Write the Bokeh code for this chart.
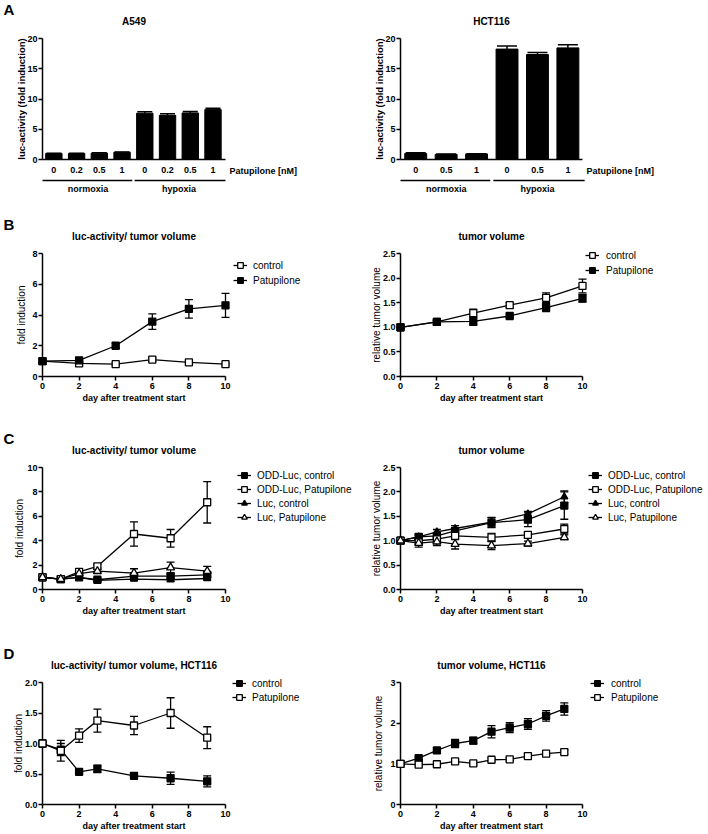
import math
from bokeh.plotting import figure
from bokeh.layouts import column, row
from bokeh.core.properties import value
from bokeh.models import (ColumnDataSource, Range1d, FixedTicker, NumeralTickFormatter,
                          Whisker, TeeHead, Legend, LegendItem)
from bokeh.embed import file_html
from bokeh.resources import INLINE

# ---------------- data ----------------
A549_DOSES = ["0", "0.2", "0.5", "1", "0", "0.2", "0.5", "1"]
A549_VALUES = [1.0, 1.0, 1.05, 1.2, 7.65, 7.3, 7.7, 8.25]
A549_ERR = [0.05, 0.05, 0.05, 0.05, 0.25, 0.25, 0.25, 0.22]
HCT_DOSES = ["0", "0.5", "1", "0", "0.5", "1"]
HCT_VALUES = [1.0, 0.85, 0.92, 18.25, 17.35, 18.45]
HCT_ERR = [0.1, 0.05, 0.05, 0.5, 0.35, 0.5]
GROUPS = ["normoxia", "hypoxia"]

DAYS_B = [0, 2, 4, 6, 8, 10]
B_LUC_CONTROL = [1.0, 0.85, 0.8, 1.1, 0.92, 0.8]
B_LUC_CONTROL_ERR = [0.05, 0.1, 0.08, 0.12, 0.1, 0.06]
B_LUC_PATU = [1.0, 1.05, 2.0, 3.57, 4.4, 4.63]
B_LUC_PATU_ERR = [0.05, 0.08, 0.17, 0.5, 0.6, 0.78]
B_VOL_CONTROL = [1.0, 1.11, 1.29, 1.45, 1.6, 1.84]
B_VOL_CONTROL_ERR = [0.02, 0.03, 0.08, 0.05, 0.1, 0.14]
B_VOL_PATU = [1.0, 1.11, 1.12, 1.23, 1.40, 1.59]
B_VOL_PATU_ERR = [0.02, 0.03, 0.08, 0.04, 0.08, 0.08]

DAYS_C = [0, 1, 2, 3, 5, 7, 9]
C_LUC_ODD_CTRL = [1.0, 0.85, 1.0, 0.8, 1.1, 1.1, 1.2]
C_LUC_ODD_CTRL_ERR = [0.05, 0.05, 0.1, 0.1, 0.1, 0.15, 0.2]
C_LUC_ODD_PATU = [1.0, 0.85, 1.45, 1.9, 4.55, 4.2, 7.15]
C_LUC_ODD_PATU_ERR = [0.05, 0.05, 0.12, 0.15, 1.0, 0.72, 1.7]
C_LUC_LUC_CTRL = [1.0, 0.85, 1.0, 0.75, 0.85, 0.8, 0.9]
C_LUC_LUC_CTRL_ERR = [0.05, 0.05, 0.08, 0.1, 0.1, 0.12, 0.1]
C_LUC_LUC_PATU = [1.0, 0.85, 1.3, 1.5, 1.35, 1.8, 1.5]
C_LUC_LUC_PATU_ERR = [0.05, 0.05, 0.1, 0.15, 0.35, 0.45, 0.4]

C_VOL_ODD_CTRL = [1.0, 1.08, 1.1, 1.2, 1.37, 1.43, 1.72]
C_VOL_ODD_CTRL_ERR = [0.02, 0.05, 0.06, 0.06, 0.1, 0.14, 0.28]
C_VOL_ODD_PATU = [1.0, 1.0, 1.03, 1.1, 1.07, 1.12, 1.24]
C_VOL_ODD_PATU_ERR = [0.02, 0.04, 0.06, 0.08, 0.08, 0.06, 0.1]
C_VOL_LUC_CTRL = [1.0, 1.08, 1.18, 1.25, 1.38, 1.55, 1.9]
C_VOL_LUC_CTRL_ERR = [0.02, 0.04, 0.05, 0.06, 0.1, 0.05, 0.12]
C_VOL_LUC_PATU = [1.0, 0.95, 0.98, 0.93, 0.9, 0.94, 1.07]
C_VOL_LUC_PATU_ERR = [0.02, 0.08, 0.08, 0.1, 0.08, 0.05, 0.05]

DAYS_D_LUC = [0, 1, 2, 3, 5, 7, 9]
D_LUC_CONTROL = [1.0, 0.9, 0.535, 0.585, 0.47, 0.43, 0.38]
D_LUC_CONTROL_ERR = [0.02, 0.1, 0.02, 0.06, 0.02, 0.1, 0.09]
D_LUC_PATU = [1.0, 0.88, 1.13, 1.375, 1.295, 1.5, 1.095]
D_LUC_PATU_ERR = [0.02, 0.17, 0.11, 0.19, 0.15, 0.25, 0.18]
DAYS_D_VOL = [0, 1, 2, 3, 4, 5, 6, 7, 8, 9]
D_VOL_CONTROL = [1.0, 1.14, 1.33, 1.5, 1.57, 1.79, 1.89, 1.98, 2.18, 2.35]
D_VOL_CONTROL_ERR = [0.02, 0.04, 0.07, 0.1, 0.08, 0.15, 0.12, 0.13, 0.13, 0.15]
D_VOL_PATU = [1.0, 0.98, 0.99, 1.06, 1.01, 1.10, 1.11, 1.19, 1.25, 1.29]
D_VOL_PATU_ERR = [0.02, 0.03, 0.03, 0.04, 0.03, 0.04, 0.04, 0.05, 0.04, 0.05]

# ---------------- layout constants ----------------
FONT = "Liberation Sans"
# column: (left border, data-area width, full frame width)
COLS = {0: (42, 183, 316), 1: (42, 182, 308)}
# row: (space above data area, data-area height, bottom border)
ROWS = {"A": (38, 121, 41), "B": (53, 123, 34), "C": (57, 122, 41), "D": (52, 122, 30)}
X_OFF = {0: 0, 1: sum(COLS[0][::2])}
Y_OFF = {}
_acc = 0
for k in "ABCD":
    Y_OFF[k] = _acc
    _acc += sum(ROWS[k])


def data_box(c, r):
    """image-pixel left/bottom of the data area, with its width/height"""
    bl, dw, fw = COLS[c]
    top, dh, bb = ROWS[r]
    return X_OFF[c] + bl, Y_OFF[r] + top + dh, dw, dh


def style_axis(ax):
    ax.axis_line_width = 1.5
    ax.axis_line_color = "black"
    ax.major_tick_line_width = 1.5
    ax.major_tick_line_color = "black"
    ax.major_tick_out = 4
    ax.major_tick_in = 0
    ax.minor_tick_out = 0
    ax.minor_tick_in = 0
    ax.major_label_text_font = FONT
    ax.major_label_text_font_size = "9px"
    ax.major_label_text_font_style = "bold"
    ax.major_label_text_color = "black"
    ax.major_label_standoff = 2


def make_fig(c, r, x0, x1, y1):
    bl, dw, fw = COLS[c]
    top, dh, bb = ROWS[r]
    fh = top + dh
    p = figure(width=bl + fw, height=fh + bb,
               x_range=Range1d(x0, x0 + (x1 - x0) * fw / dw),
               y_range=Range1d(0, y1 * fh / dh),
               output_backend="svg", toolbar_location=None,
               min_border_left=bl, min_border_right=0,
               min_border_top=0, min_border_bottom=bb)
    p.outline_line_color = None
    p.grid.visible = False
    p.extra_x_ranges = {"px_x": Range1d(0, fw)}
    p.extra_y_ranges = {"px_y": Range1d(0, fh)}
    for ax in p.axis:
        style_axis(ax)
    p.yaxis.major_label_standoff = 1
    p.xaxis.bounds = (x0, x1)
    p.yaxis.bounds = (0, y1)
    return p


def texts(p, xs, ys, labels, size="10px", style="bold", align="center", angle=0.0,
          x_data=False):
    kw = dict(y_range_name="px_y")
    if not x_data:
        kw["x_range_name"] = "px_x"
    p.text(x=xs, y=ys, text=labels, text_font=value(FONT), text_font_size=value(size),
           text_font_style=style, text_align=align, text_baseline="middle",
           text_color="black", angle=angle, level="overlay", **kw)


def decorate(p, c, r, title, letter, ylabel, ylabel_x, ylabel_bold, ylabel_size, xlabel=None):
    _, _, dw, dh = data_box(c, r)
    texts(p, [dw / 2], [dh + 17.5], [title], "10px", "bold")
    if letter:
        texts(p, [-39], [dh + 29.5], [letter], "15px", "bold", "left")
    texts(p, [ylabel_x], [dh / 2], [ylabel], ylabel_size,
          "bold" if ylabel_bold else "normal", "center", math.pi / 2)
    if xlabel:
        texts(p, [dw / 2], [-21.5], [xlabel], "9px", "bold")


def bar_panel(c, r, doses, values, errs, xmax, tee, title, letter):
    n = len(doses)
    xs = list(range(1, n + 1))
    p = make_fig(c, r, 0.5, xmax, 20)
    _, _, dw, dh = data_box(c, r)
    src = ColumnDataSource(dict(x=xs, top=values,
                                hi=[v + e for v, e in zip(values, errs)]))
    p.vbar(x="x", top="top", width=0.72, source=src, color="black")
    p.add_layout(Whisker(source=src, base="x", lower="top", upper="hi", dimension="height",
                         line_width=1.5, line_color="black", level="annotation",
                         lower_head=None,
                         upper_head=TeeHead(size=tee, line_width=1.5, line_color="black")))
    p.yaxis[0].ticker = FixedTicker(ticks=[0, 5, 10, 15, 20])
    xa = p.xaxis[0]
    xa.ticker = FixedTicker(ticks=xs)
    xa.major_label_overrides = {x: d for x, d in zip(xs, doses)}
    xa.major_tick_out = 0
    xa.major_label_standoff = 7
    texts(p, [dw + 4], [-11.4], ["Patupilone [nM]"], "9px", "bold", "left")
    half = n // 2
    p.segment(x0=[0.5, half + 0.55], x1=[half + 0.45, n + 0.55], y0=[-21, -21], y1=[-21, -21],
              y_range_name="px_y", line_width=1.3, color="black", level="overlay")
    texts(p, [(1 + half) / 2, (half + 1 + n) / 2], [-29, -29], GROUPS, "9px", "bold",
          x_data=True)
    decorate(p, c, r, title, letter, "luc-activity (fold induction)",
             -21.5, True, "9.5px")
    return p


def line_panel(c, r, ymax, yticks, yfmt, ylabel, ylabel_x, title, letter,
               series, legend_glyph_x, legend_first_y, legend_pitch, legend_standoff=6):
    p = make_fig(c, r, 0, 10, ymax)
    left, bottom, dw, dh = data_box(c, r)
    items = []
    for name, days, vals, errs, marker, filled, size in series:
        src = ColumnDataSource(dict(x=days,
                                    lo=[v - e for v, e in zip(vals, errs)],
                                    hi=[v + e for v, e in zip(vals, errs)]))
        p.add_layout(Whisker(source=src, base="x", lower="lo", upper="hi", dimension="height",
                             line_width=1.3, line_color="black", level="annotation",
                             lower_head=TeeHead(size=8, line_width=1.3, line_color="black"),
                             upper_head=TeeHead(size=8, line_width=1.3, line_color="black")))
    for name, days, vals, errs, marker, filled, size in series:
        src = ColumnDataSource(dict(x=days, y=vals))
        ln = p.line("x", "y", source=src, line_width=1.3, line_color="black", level="overlay")
        sc = p.scatter("x", "y", source=src, marker=marker, size=size,
                       fill_color="black" if filled else "white", line_color="black",
                       line_width=1.3, level="overlay")
        items.append(LegendItem(label=name, renderers=[ln, sc]))
    xa = p.xaxis[0]
    xa.ticker = FixedTicker(ticks=[0, 2, 4, 6, 8, 10])
    ya = p.yaxis[0]
    ya.ticker = FixedTicker(ticks=yticks)
    ya.formatter = NumeralTickFormatter(format=yfmt)
    gh = 14
    n = len(items)
    spacing = int(legend_pitch - gh)
    height = n * gh + (n - 1) * spacing
    top = legend_first_y - gh / 2
    leg = Legend(items=items,
                 location=(int(round(legend_glyph_x - left)), int(round(bottom - (top + height)))),
                 padding=0, margin=0, spacing=spacing, glyph_width=14, glyph_height=gh,
                 label_height=12, label_width=10, label_standoff=legend_standoff,
                 label_text_font=FONT, label_text_font_size="10px",
                 label_text_color="black", border_line_color=None,
                 background_fill_alpha=0)
    p.add_layout(leg)
    decorate(p, c, r, title, letter, ylabel, ylabel_x, False, "10px",
             "day after treatment start")
    return p


pA1 = bar_panel(0, "A", A549_DOSES, A549_VALUES, A549_ERR, 8.55, 15, "A549", "A")
pA2 = bar_panel(1, "A", HCT_DOSES, HCT_VALUES, HCT_ERR, 6.48, 20, "HCT116", None)

pB1 = line_panel(0, "B", 8, [0, 2, 4, 6, 8], "0", "fold induction", -21.5,
                 "luc-activity/ tumor volume", "B",
                 [("control", DAYS_B, B_LUC_CONTROL, B_LUC_CONTROL_ERR, "square", False, 7),
                  ("Patupilone", DAYS_B, B_LUC_PATU, B_LUC_PATU_ERR, "square", True, 7)],
                 233, 264.7, 15)
pB2 = line_panel(1, "B", 2.5, [0, 0.5, 1, 1.5, 2, 2.5], "0.0", "relative tumor volume", -24.5,
                 "tumor volume", None,
                 [("control", DAYS_B, B_VOL_CONTROL, B_VOL_CONTROL_ERR, "square", False, 7),
                  ("Patupilone", DAYS_B, B_VOL_PATU, B_VOL_PATU_ERR, "square", True, 7)],
                 585, 255.3, 15, 7)

pC1 = line_panel(0, "C", 10, [0, 2, 4, 6, 8, 10], "0", "fold induction", -23.4,
                 "luc-activity/ tumor volume", "C",
                 [("ODD-Luc, control", DAYS_C, C_LUC_ODD_CTRL, C_LUC_ODD_CTRL_ERR, "square", True, 7),
                  ("ODD-Luc, Patupilone", DAYS_C, C_LUC_ODD_PATU, C_LUC_ODD_PATU_ERR, "square", False, 7),
                  ("Luc, control", DAYS_C, C_LUC_LUC_CTRL, C_LUC_LUC_CTRL_ERR, "triangle", True, 7),
                  ("Luc, Patupilone", DAYS_C, C_LUC_LUC_PATU, C_LUC_LUC_PATU_ERR, "triangle", False, 8)],
                 237, 475, 14)
pC2 = line_panel(1, "C", 2.5, [0, 0.5, 1, 1.5, 2, 2.5], "0.0", "relative tumor volume", -24.5,
                 "tumor volume", None,
                 [("ODD-Luc, control", DAYS_C, C_VOL_ODD_CTRL, C_VOL_ODD_CTRL_ERR, "square", True, 7),
                  ("ODD-Luc, Patupilone", DAYS_C, C_VOL_ODD_PATU, C_VOL_ODD_PATU_ERR, "square", False, 7),
                  ("Luc, control", DAYS_C, C_VOL_LUC_CTRL, C_VOL_LUC_CTRL_ERR, "triangle", True, 7),
                  ("Luc, Patupilone", DAYS_C, C_VOL_LUC_PATU, C_VOL_LUC_PATU_ERR, "triangle", False, 8)],
                 588, 475, 14)

pD1 = line_panel(0, "D", 2, [0, 0.5, 1, 1.5, 2], "0.0", "fold induction", -24.5,
                 "luc-activity/ tumor volume, HCT116", "D",
                 [("control", DAYS_D_LUC, D_LUC_CONTROL, D_LUC_CONTROL_ERR, "square", True, 7),
                  ("Patupilone", DAYS_D_LUC, D_LUC_PATU, D_LUC_PATU_ERR, "square", False, 7)],
                 232, 683.3, 14)
pD2 = line_panel(1, "D", 3, [0, 1, 2, 3], "0", "relative tumor volume", -22,
                 "tumor volume, HCT116", None,
                 [("control", DAYS_D_VOL, D_VOL_CONTROL, D_VOL_CONTROL_ERR, "square", True, 7),
                  ("Patupilone", DAYS_D_VOL, D_VOL_PATU, D_VOL_PATU_ERR, "square", False, 7)],
                 590, 683.3, 14, 7)

layout = column(row(pA1, pA2), row(pB1, pB2), row(pC1, pC2), row(pD1, pD2))

with open("out.html", "w") as f:
    f.write(file_html(layout, INLINE))
